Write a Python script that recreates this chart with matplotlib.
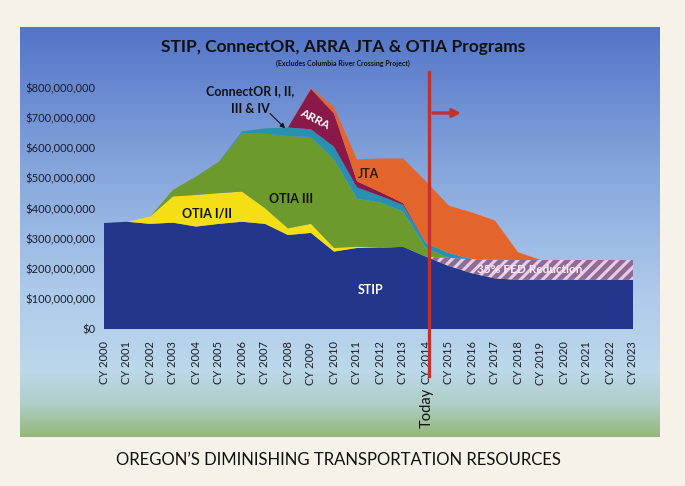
import numpy as np
import matplotlib
matplotlib.use("Agg")
from matplotlib import pyplot as plt
from matplotlib.colors import LinearSegmentedColormap
from matplotlib.ticker import FuncFormatter

plt.rcParams['font.family'] = ['Lato', 'DejaVu Sans']
plt.rcParams['hatch.linewidth'] = 2.2

years = [f'CY {y}' for y in range(2000, 2024)]

# values in millions of dollars
stip = [352, 356, 349, 353, 340, 349, 356, 349, 312, 319, 257, 269,
        269, 273, 240, 209, 185, 168, 163, 163, 163, 163, 163, 163]
fed_reduction = [0, 0, 0, 0, 0, 0, 0, 0, 0, 0, 0, 0,
                 0, 0, 0, 27, 47, 62, 66, 66, 66, 66, 66, 66]
otia_1_2 = [0, 0, 24, 87, 105, 102, 100, 52, 22, 30, 12, 4,
            0, 0, 0, 0, 0, 0, 0, 0, 0, 0, 0, 0]
otia_3 = [0, 0, 0, 22, 61, 105, 194, 247, 307, 288, 294, 159,
          151, 117, 28, 0, 0, 0, 0, 0, 0, 0, 0, 0]
connector = [0, 0, 0, 0, 0, 0, 6, 18, 28, 26, 42, 38,
             22, 22, 17, 16, 0, 0, 0, 0, 0, 0, 0, 0]
arra = [0, 0, 0, 0, 0, 0, 0, 0, 0, 134, 110, 20,
        13, 6, 0, 0, 0, 0, 0, 0, 0, 0, 0, 0]
jta = [0, 0, 0, 0, 0, 0, 0, 0, 0, 3, 22, 73,
       111, 148, 205, 157, 155, 130, 26, 0, 0, 0, 0, 0]

y_ticks = [0, 100, 200, 300, 400, 500, 600, 700, 800]
today_idx = 14.13

x = np.arange(len(years))
M = 1e6

fig = plt.figure(figsize=(6.85, 4.86), dpi=100)
fig.patch.set_facecolor('#f6f2e9')

# blue photo-like backdrop
bg = fig.add_axes([20/685, 1-437/486, 640/685, 410/486], zorder=0)
grad_cmap = LinearSegmentedColormap.from_list('bg', [
    (0.0, '#5374c8'), (0.35, '#86a6dc'), (0.65, '#aecbeb'),
    (0.84, '#bcd8ea'), (0.92, '#b0cfc8'), (1.0, '#93b87a')])
bg.imshow(np.linspace(0, 1, 256).reshape(-1, 1), aspect='auto', cmap=grad_cmap,
          extent=[0, 1, 0, 1])
bg.axis('off')

ax = fig.add_axes([104/685, 1-329/486, 529/685, 241/486], zorder=1)
ax.patch.set_alpha(0)

layers = [stip, fed_reduction, otia_1_2, otia_3, connector, arra, jta]
colors = ['#22368c', '#8d6b98', '#f3df14', '#6d9a2d', '#2891b1', '#8a1848', '#e4652b']
polys = ax.stackplot(x, *[np.array(l) * M for l in layers], colors=colors, linewidth=0)
polys[1].set_hatch('///')
polys[1].set_edgecolor('#ecccdf')

ax.set_xlim(0, 23)
ax.set_ylim(0, 800 * M)
ax.set_yticks([v * M for v in y_ticks])
ax.yaxis.set_major_formatter(FuncFormatter(lambda v, p: f'${v:,.0f}'))
ax.set_xticks(x)
ax.set_xticklabels(years, rotation=90, fontsize=8, color='#1c1c28')
ax.tick_params(axis='y', labelsize=8, length=0, pad=6, labelcolor='#1c1c28')
ax.tick_params(axis='x', length=0, pad=9)
for s in ax.spines.values():
    s.set_visible(False)

# today marker
ax.plot([today_idx, today_idx], [853 * M, -157 * M], color='#c2322c', lw=2.4,
        clip_on=False, zorder=5)
ax.annotate('', xy=(15.65, 717 * M), xytext=(today_idx + 0.05, 717 * M),
            arrowprops=dict(arrowstyle='-|>', color='#c2322c', lw=2.4,
                            mutation_scale=12), annotation_clip=False, zorder=5)
ax.text(today_idx - 0.08, -262 * M, 'Today', rotation=90, fontsize=10.5,
        ha='center', va='center', color='#111111')

# in-chart labels
ax.text(11.57, 129 * M, 'STIP', color='white', fontsize=9, fontweight='bold',
        ha='center', va='center')
ax.text(18.5, 196 * M, '35% FED Reduction', color='#fbeaf5', fontsize=8.5,
        fontweight='bold', ha='center', va='center', zorder=6)
ax.text(4.48, 385 * M, 'OTIA I/II', color='#111111', fontsize=9, fontweight='bold',
        ha='center', va='center')
ax.text(8.13, 432 * M, 'OTIA III', color='#111111', fontsize=9, fontweight='bold',
        ha='center', va='center')
ax.text(11.52, 515 * M, 'JTA', color='#2a1a10', fontsize=9, fontweight='bold',
        ha='center', va='center')
ax.text(9.17, 696 * M, 'ARRA', color='white', fontsize=8.5, fontweight='bold',
        ha='center', va='center', rotation=-27)
ax.text(6.35, 760 * M, 'ConnectOR I, II,\nIII & IV', color='#111111', fontsize=9,
        fontweight='bold', ha='center', va='center', linespacing=1.5)
ax.annotate('', xy=(7.96, 660 * M), xytext=(7.13, 722 * M),
            arrowprops=dict(arrowstyle='-|>', color='#111111', lw=0.8,
                            mutation_scale=7), annotation_clip=False)

fig.text(343/685, 1-47/486, 'STIP, ConnectOR, ARRA JTA & OTIA Programs',
         fontsize=12.5, fontweight='bold', ha='center', va='center', color='#111111')
fig.text(343/685, 1-63/486, '(Excludes Columbia River Crossing Project)',
         fontsize=5, fontweight='bold', ha='center', va='center', color='#111111')
fig.text(338/685, 1-460/486, 'OREGON\u2019S DIMINISHING TRANSPORTATION RESOURCES',
         fontsize=12, ha='center', va='center', color='#111111')

fig.savefig('out.png', dpi=100, facecolor=fig.get_facecolor())
plt.close(fig)
